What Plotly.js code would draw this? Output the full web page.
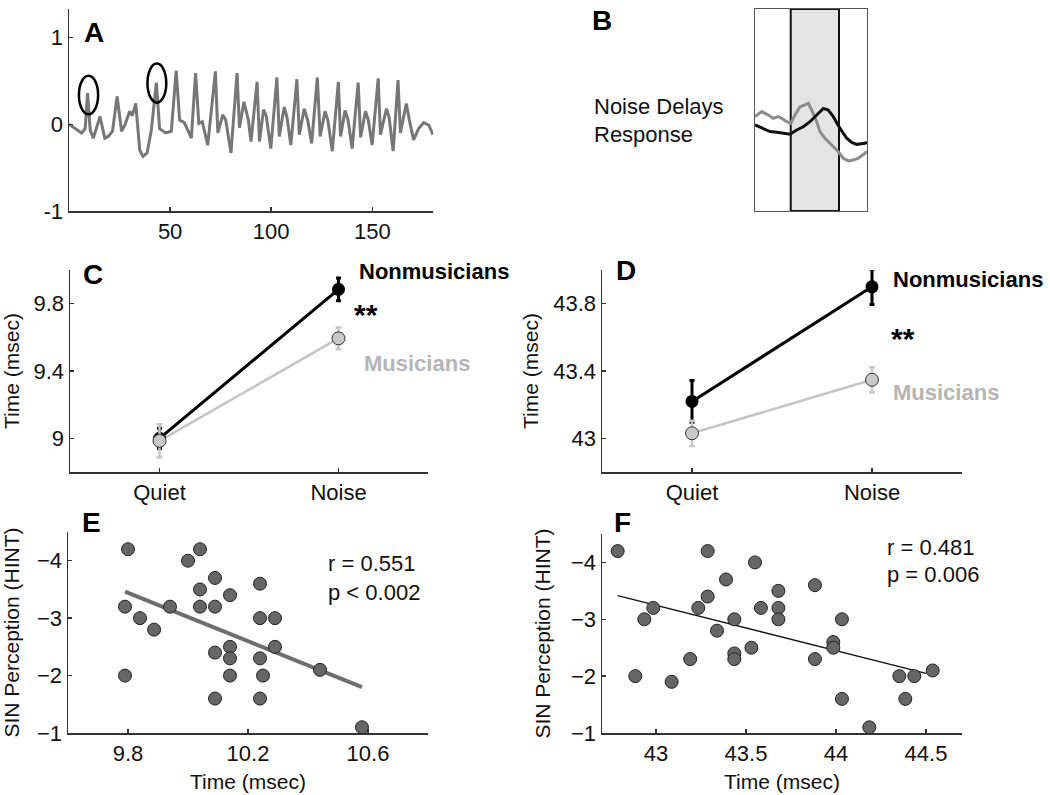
<!DOCTYPE html>
<html>
<head>
<meta charset="utf-8">
<script src="https://cdn.plot.ly/plotly-3.0.1.min.js"></script>
<style>html,body{margin:0;padding:0;background:#fff;}#chart{width:1050px;height:795px;}</style>
</head>
<body>
<div id="chart"></div>
<script>
// ---------- Panel A: response waveform ----------
const aTime = [0, 3, 6.2, 8, 9.2, 10.5, 12, 13.5, 15.3, 17.7, 19.4, 21.5, 23.8, 26, 27.6, 30, 31.3, 33, 35, 36.6, 38.6, 40.7, 43.2, 44.8, 47.8, 50.6, 53, 54.7, 57, 58.8, 60.5, 62.6, 64.2, 65.9, 68.6, 72.4, 73.6, 76, 77.5, 80.1, 83.1, 84.3, 86.5, 88.7, 90, 93, 94.2, 96.2, 97.5, 99.8, 102.8, 104, 106.4, 107.8, 109.7, 112.7, 113.9, 116.3, 118, 120, 122.8, 124.2, 126.6, 128, 130.2, 133.2, 134.3, 136.5, 138, 140, 143, 144.2, 146.6, 148, 149.9, 152.9, 154, 157, 158.3, 160.3, 162.7, 163.9, 166.8, 168.3, 170.4, 172.9, 175.4, 177.9, 180];
const aAmp = [0, -0.05, -0.10, -0.05, 0.36, -0.07, -0.16, -0.05, 0.09, -0.16, -0.14, -0.08, 0.32, -0.08, -0.01, 0.15, 0.10, 0.24, -0.30, -0.37, -0.33, -0.07, 0.48, -0.05, -0.10, -0.08, 0.62, 0.05, 0.02, -0.07, -0.16, 0.59, 0.01, 0.03, -0.24, 0.61, -0.10, 0.11, 0.05, -0.33, 0.59, -0.04, 0.26, 0.05, -0.20, 0.49, -0.20, 0.17, 0.10, -0.28, 0.54, -0.14, 0.20, 0.08, -0.24, 0.52, -0.12, 0.18, 0.05, -0.22, 0.54, -0.14, 0.15, 0.05, -0.31, 0.49, -0.14, 0.16, 0.05, -0.28, 0.48, -0.15, 0.15, 0.05, -0.24, 0.53, -0.12, 0.18, 0.08, -0.31, 0.51, -0.10, 0.24, 0.05, -0.18, -0.05, 0.02, -0.01, -0.12];
const aTickVals = [50, 100, 150];
const aYTickVals = [-1, 0, 1];
const aYTickText = ['-1', '0', '1'];
// circled peaks: [t0, t1, v0, v1]
const aCircles = [[4.9, 14.4, 0.115, 0.56], [38.8, 48.1, 0.25, 0.70]];

// ---------- Panel B: quiet vs noise response (arbitrary units) ----------
const bQuietX = [0, 6, 11.9, 16.3, 20.8, 23.8, 28.3, 31.9, 35.7, 40.2, 44.6, 47.6, 50.6, 55.1, 58, 62.5, 68.5, 74.4, 78.8, 83.3, 87.8, 92.2, 98.2, 100];
const bQuietY = [46.7, 49.2, 47.5, 45.9, 46.7, 45.9, 44.2, 43.4, 47.5, 51.6, 52.5, 53.3, 50, 44.2, 39.3, 36, 32.7, 29.4, 26.1, 24.8, 25.2, 26.1, 28.6, 29.5];
const bNoiseX = [0, 7.4, 13.4, 19.4, 23.8, 31.3, 37.2, 43.1, 49.1, 55.1, 61, 65.4, 69.9, 75.9, 81.9, 86.3, 90.8, 98.2, 100];
const bNoiseY = [42.6, 40.9, 39.3, 39, 38.5, 38, 40.1, 41.7, 44.2, 47.5, 50.8, 50, 46.7, 40.9, 36, 34, 33, 33.5, 34];
const bBand = [31.9, 75];

// ---------- Panels C & D: group means ----------
const conds = ['Quiet', 'Noise'];
const cNon = [9.0, 9.885];
const cNonErr = [0.06, 0.068];
const cMus = [8.985, 9.594];
const cMusErr = [0.098, 0.065];
const cTickVals = [9, 9.4, 9.8];
const dNon = [43.219, 43.90];
const dNonErr = [0.124, 0.105];
const dMus = [43.03, 43.348];
const dMusErr = [0.075, 0.075];
const dTickVals = [43, 43.4, 43.8];

// ---------- Panel E: SIN vs timing (early peak) ----------
const eX = [9.8, 9.79, 9.79, 9.84, 9.887, 9.94, 10.0, 10.04, 10.04, 10.04, 10.09, 10.09, 10.09, 10.09, 10.14, 10.14, 10.14, 10.14, 10.24, 10.24, 10.24, 10.24, 10.25, 10.29, 10.29, 10.44, 10.58];
const eY = [-4.2, -3.2, -2.0, -3.0, -2.8, -3.2, -4.0, -4.2, -3.5, -3.2, -3.7, -3.2, -2.4, -1.6, -3.4, -2.5, -2.3, -2.0, -3.6, -3.0, -2.3, -1.6, -2.0, -3.0, -2.5, -2.1, -1.1];
const eFitX = [9.79, 10.58];
const eFitY = [-3.46, -1.80];
const eTickVals = [9.8, 10.2, 10.6];

// ---------- Panel F: SIN vs timing (late peak) ----------
const fX = [42.787, 42.885, 42.935, 42.985, 43.087, 43.19, 43.235, 43.287, 43.287, 43.339, 43.389, 43.435, 43.435, 43.435, 43.53, 43.55, 43.583, 43.68, 43.68, 43.68, 43.883, 43.883, 43.985, 43.985, 44.033, 44.033, 44.185, 44.352, 44.435, 44.385, 44.537];
const fY = [-4.2, -2.0, -3.0, -3.2, -1.9, -2.3, -3.2, -4.2, -3.4, -2.8, -3.7, -3.0, -2.4, -2.3, -2.5, -4.0, -3.2, -3.5, -3.2, -3.0, -3.6, -2.3, -2.6, -2.5, -3.0, -1.6, -1.1, -2.0, -2.0, -1.6, -2.1];
const fFitX = [42.787, 44.5];
const fFitY = [-3.415, -2.05];
const fTickVals = [43, 43.5, 44, 44.5];
const sinTickVals = [-4, -3, -2, -1];

// ---------- helpers ----------
const FONT = 'Liberation Sans, Arial, Helvetica, sans-serif';
const W = 1050, H = 795;
const px = v => v / W;
const py = v => 1 - v / H;
const dx = (a, b) => [px(a), px(b)];
const dy = (top, bottom) => [py(bottom), py(top)];

function ax(domain, range, anchor, extra) {
  return Object.assign({
    domain: domain, range: range, anchor: anchor,
    showgrid: false, zeroline: false, showline: true,
    linecolor: '#333', linewidth: 1.5,
    ticks: 'inside', ticklen: 4, tickwidth: 1.5, tickcolor: '#333',
    tickfont: {family: FONT, size: 22, color: '#111'},
    fixedrange: true
  }, extra || {});
}
const titleFont = {family: FONT, size: 21, color: '#111'};

const traces = [
  // A
  {x: aTime, y: aAmp, xaxis: 'x', yaxis: 'y', mode: 'lines', line: {color: '#777', width: 3}, hoverinfo: 'skip'},
  // B
  {x: bQuietX, y: bQuietY, xaxis: 'x2', yaxis: 'y2', mode: 'lines', line: {color: '#8c8c8c', width: 3}},
  {x: bNoiseX, y: bNoiseY, xaxis: 'x2', yaxis: 'y2', mode: 'lines', line: {color: '#111', width: 3}},
  // C
  {x: conds, y: cMus, xaxis: 'x3', yaxis: 'y3', mode: 'lines', line: {color: '#c4c4c4', width: 2.5}},
  {x: conds, y: cNon, xaxis: 'x3', yaxis: 'y3', mode: 'lines+markers', line: {color: '#000', width: 3},
   marker: {size: 13, color: '#000'}, error_y: {type: 'data', array: cNonErr, visible: true, color: '#000', thickness: 3, width: 2.5}},
  {x: conds, y: cMus, xaxis: 'x3', yaxis: 'y3', mode: 'markers',
   marker: {size: 13, color: '#c8c8c8', line: {color: '#333', width: 1}}, error_y: {type: 'data', array: cMusErr, visible: true, color: '#c8c8c8', thickness: 2.5, width: 3}},
  // D
  {x: conds, y: dMus, xaxis: 'x4', yaxis: 'y4', mode: 'lines', line: {color: '#c4c4c4', width: 2.5}},
  {x: conds, y: dNon, xaxis: 'x4', yaxis: 'y4', mode: 'lines+markers', line: {color: '#000', width: 3},
   marker: {size: 13, color: '#000'}, error_y: {type: 'data', array: dNonErr, visible: true, color: '#000', thickness: 3, width: 2.5}},
  {x: conds, y: dMus, xaxis: 'x4', yaxis: 'y4', mode: 'markers',
   marker: {size: 13, color: '#c8c8c8', line: {color: '#333', width: 1}}, error_y: {type: 'data', array: dMusErr, visible: true, color: '#c8c8c8', thickness: 2.5, width: 3}},
  // E
  {x: eFitX, y: eFitY, xaxis: 'x5', yaxis: 'y5', mode: 'lines', line: {color: '#6e6e6e', width: 4}},
  {x: eX, y: eY, xaxis: 'x5', yaxis: 'y5', mode: 'markers', marker: {size: 13, color: '#666', line: {color: '#222', width: 1}}},
  // F
  {x: fFitX, y: fFitY, xaxis: 'x6', yaxis: 'y6', mode: 'lines', line: {color: '#111', width: 1.3}},
  {x: fX, y: fY, xaxis: 'x6', yaxis: 'y6', mode: 'markers', marker: {size: 13, color: '#666', line: {color: '#222', width: 1}}}
];

const letterFont = {family: FONT, size: 28, color: '#000', weight: 'bold'};
function txt(x, y, text, font, xanchor) {
  return {xref: 'paper', yref: 'paper', x: px(x), y: py(y), text: text, showarrow: false,
          xanchor: xanchor || 'left', yanchor: 'middle', font: font, align: 'left'};
}
const bold22 = {family: FONT, size: 22, color: '#000', weight: 'bold'};
const grayBold22 = {family: FONT, size: 22, color: '#b5b5b5', weight: 'bold'};
const star = {family: FONT, size: 30, color: '#000', weight: 'bold'};
const reg22 = {family: FONT, size: 22, color: '#111'};

const annotations = [
  txt(94, 33, '<b>A</b>', letterFont, 'center'),
  txt(602, 21, '<b>B</b>', letterFont, 'center'),
  txt(93, 275, '<b>C</b>', letterFont, 'center'),
  txt(626, 271, '<b>D</b>', letterFont, 'center'),
  txt(91, 522, '<b>E</b>', letterFont, 'center'),
  txt(622, 522, '<b>F</b>', letterFont, 'center'),
  txt(592, 107, 'Noise Delays', reg22),
  txt(592, 135, 'Response', reg22),
  txt(357, 272, '<b>Nonmusicians</b>', bold22),
  txt(352, 314, '<b>**</b>', star),
  txt(362, 363, '<b>Musicians</b>', grayBold22),
  txt(891, 280, '<b>Nonmusicians</b>', bold22),
  txt(889, 338, '<b>**</b>', star),
  txt(891, 392, '<b>Musicians</b>', grayBold22),
  txt(326, 563, 'r = 0.551', reg22),
  txt(326, 592, 'p < 0.002', reg22),
  txt(885, 547, 'r = 0.481', reg22),
  txt(885, 574, 'p = 0.006', reg22)
];

const shapes = aCircles.map(c => ({type: 'circle', xref: 'x', yref: 'y', x0: c[0], x1: c[1], y0: c[2], y1: c[3],
  line: {color: '#000', width: 2.5}}));
shapes.push({type: 'rect', xref: 'x2', yref: 'y2', x0: bBand[0], x1: bBand[1], y0: 0, y1: 100,
  fillcolor: '#e4e4e4', line: {color: '#111', width: 2}, layer: 'below'});

const layout = {
  width: W, height: H, margin: {l: 0, r: 0, t: 0, b: 0},
  paper_bgcolor: '#fff', plot_bgcolor: 'rgba(0,0,0,0)', showlegend: false,
  font: {family: FONT, color: '#111'},
  xaxis: ax(dx(69, 433), [0, 180], 'y', {tickvals: aTickVals}),
  yaxis: ax(dy(9, 211), [-1, 1.33], 'x', {tickvals: aYTickVals, ticktext: aYTickText}),
  xaxis2: ax(dx(755, 867), [0, 100], 'y2', {showticklabels: false, ticks: '', mirror: true, linewidth: 1, linecolor: '#555'}),
  yaxis2: ax(dy(9, 211), [0, 100], 'x2', {showticklabels: false, ticks: '', mirror: true, linewidth: 1, linecolor: '#555'}),
  xaxis3: ax(dx(70, 428), [-0.5, 1.5], 'y3', {type: 'category'}),
  yaxis3: ax(dy(270, 472), [8.8, 10.0], 'x3', {tickvals: cTickVals, ticktext: cTickVals.map(String),
    title: {text: 'Time (msec)', font: titleFont, standoff: 9}}),
  xaxis4: ax(dx(602, 962), [-0.5, 1.5], 'y4', {type: 'category'}),
  yaxis4: ax(dy(270, 472), [42.8, 44.0], 'x4', {tickvals: dTickVals, ticktext: dTickVals.map(String),
    title: {text: 'Time (msec)', font: titleFont, standoff: 9}}),
  xaxis5: ax(dx(68, 428), [9.6, 10.8], 'y5', {tickvals: eTickVals, ticktext: eTickVals.map(String),
    title: {text: 'Time (msec)', font: titleFont, standoff: 9}}),
  yaxis5: ax(dy(532, 733), [-1, -4.5], 'x5', {tickvals: sinTickVals,
    title: {text: 'SIN Perception (HINT)', font: titleFont, standoff: 12}}),
  xaxis6: ax(dx(602, 962), [42.7, 44.7], 'y6', {tickvals: fTickVals, ticktext: fTickVals.map(String),
    title: {text: 'Time (msec)', font: titleFont, standoff: 9}}),
  yaxis6: ax(dy(534, 733), [-1, -4.5], 'x6', {tickvals: sinTickVals,
    title: {text: 'SIN Perception (HINT)', font: titleFont, standoff: 14}}),
  annotations: annotations,
  shapes: shapes
};

Plotly.newPlot('chart', traces, layout, {displayModeBar: false, staticPlot: true});
</script>
</body>
</html>
